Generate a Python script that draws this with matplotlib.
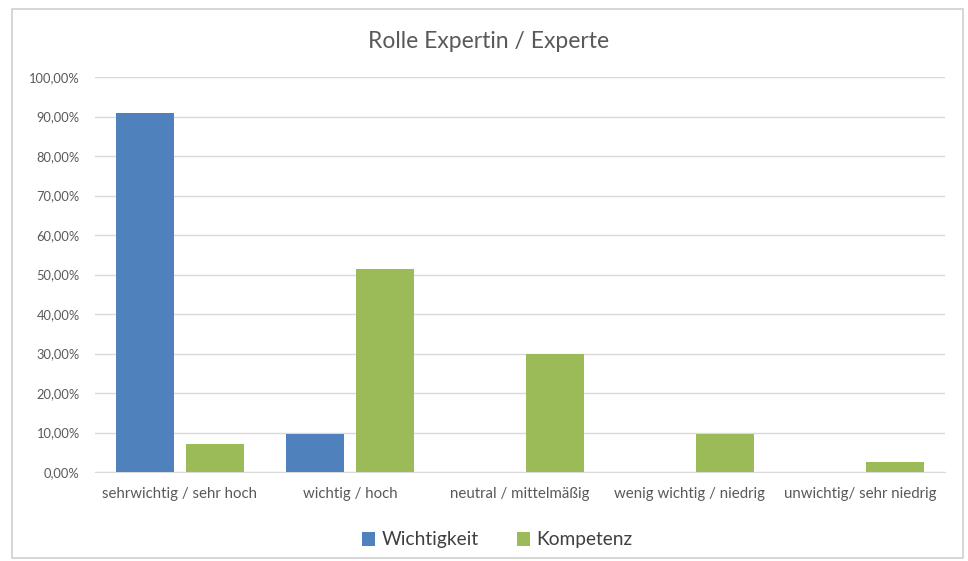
import matplotlib.pyplot as plt
import numpy as np
from matplotlib.patches import Rectangle
from matplotlib.ticker import FuncFormatter

plt.rcParams['font.family'] = ['Lato', 'DejaVu Sans']

categories = ['sehrwichtig / sehr hoch', 'wichtig / hoch', 'neutral / mittelmäßig',
              'wenig wichtig / niedrig', 'unwichtig/ sehr niedrig']
wichtigkeit = [90.9, 9.6, 0, 0, 0]
kompetenz = [7.1, 51.4, 30.0, 9.6, 2.6]

fig = plt.figure(figsize=(9.68, 5.61), dpi=100)
# chart frame like the office export
fig.patches.append(Rectangle((12 / 968, 3 / 561), 951 / 968, 549 / 561, transform=fig.transFigure,
                             fill=False, edgecolor='#D0D0D0', linewidth=1.2))
ax = fig.add_axes([95 / 968, 1 - 472 / 561, 850 / 968, 395 / 561])

x = np.arange(len(categories))
w = 0.34
ax.bar(x - 0.205, wichtigkeit, w, color='#4F81BD', label='Wichtigkeit', zorder=3)
ax.bar(x + 0.205, kompetenz, w, color='#9BBB59', label='Kompetenz', zorder=3)

ax.set_xlim(-0.5, len(categories) - 0.5)
ax.set_ylim(0, 100)
ax.set_yticks(np.arange(0, 101, 10))
ax.yaxis.set_major_formatter(FuncFormatter(lambda v, p: f'{v:.2f}'.replace('.', ',') + '%'))
ax.set_xticks(x)
ax.set_xticklabels(categories)
ax.grid(axis='y', color='#D9D9D9', linewidth=1, zorder=0)
for s in ['top', 'right', 'left']:
    ax.spines[s].set_visible(False)
ax.spines['bottom'].set_color('#D9D9D9')
ax.tick_params(axis='both', length=0, colors='#595959', labelsize=9.3)
ax.tick_params(axis='x', pad=11, labelsize=10.8)
ax.tick_params(axis='y', pad=11)

fig.text(489 / 968, 1 - 42 / 561, 'Rolle Expertin / Experte', ha='center', va='center',
         fontsize=16.5, color='#595959')
fig.legend(loc='center', bbox_to_anchor=(497 / 968, 1 - 540 / 561), ncol=2, frameon=False,
           fontsize=13.8, handlelength=0.7, handleheight=0.7, columnspacing=2.0, handletextpad=0.3,
           labelcolor='#404040')

plt.savefig('out.png', dpi=100)
